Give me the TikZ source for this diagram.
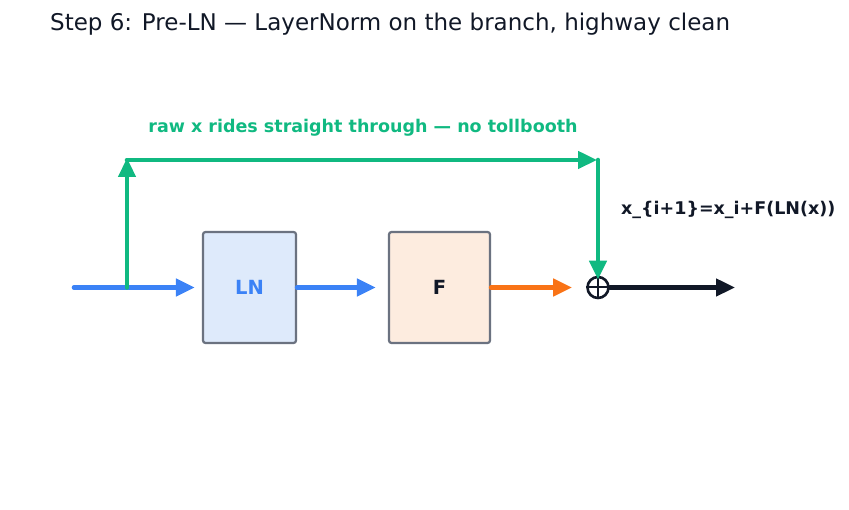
\documentclass[tikz,border=0pt]{standalone}
\usepackage{fontspec}
\setmainfont{DejaVu Sans}
\usetikzlibrary{arrows.meta}
\definecolor{cblue}{HTML}{3B82F6}
\definecolor{cgreen}{HTML}{10B981}
\definecolor{corange}{HTML}{F97316}
\definecolor{cdark}{HTML}{111827}
\definecolor{cgray}{HTML}{6B7280}
\definecolor{lnfill}{HTML}{DEEAFB}
\definecolor{ffill}{HTML}{FDECDF}
\begin{document}
\begin{tikzpicture}[x=1pt,y=-1pt,
  flow/.style={line width=4.6pt,line cap=round,-{Triangle[length=19pt,width=17pt]}},
  blockbox/.style={draw=cgray,line width=2.2pt,rounded corners=2.5pt,minimum width=93pt,minimum height=111pt,inner sep=0pt,font=\fontsize{19.5}{22}\selectfont\bfseries},
  lbl/.style={font=\fontsize{17.5}{20}\selectfont\bfseries,inner sep=0pt}]
\useasboundingbox (0,0) rectangle (849,510);
\node[anchor=west,inner sep=0pt,text=cdark,font=\fontsize{23}{26}\selectfont] (title) at (50,24) {Step 6: Pre-LN — LayerNorm on the branch, highway clean};
\node[lbl,text=cgreen] (hwlbl) at (363,128) {raw x rides straight through — no tollbooth};
\node[blockbox,fill=lnfill,text=cblue] (ln) at (249.5,287.5) {LN};
\node[blockbox,fill=ffill,text=cdark,minimum width=101pt] (f) at (439.5,287.5) {F};
\node[draw=cdark,line width=2.6pt,circle,minimum size=21pt,inner sep=0pt] (sum) at (598,287.5) {};
\draw[cdark,line width=2pt] (sum.north) -- (sum.south) (sum.west) -- (sum.east);
\node[lbl,text=cdark,anchor=west] (eq) at (621,210) {x\_\{i+1\}=x\_i+F(LN(x))};
\coordinate (in) at (74,287.5);
\coordinate (br) at (127,287.5);
\coordinate (tl) at (127,160);
\coordinate (tr) at (598,160);
\coordinate (out) at (735,287.5);
\draw[flow,cblue] (in) -- ([xshift=-7pt]ln.west);
\draw[flow,cgreen] (br) -- ([yshift=2pt]tl);
\draw[flow,cgreen] (tl) -- ([xshift=-1pt]tr);
\draw[flow,cgreen] (tr) -- ([yshift=-4pt]sum.north);
\draw[flow,cblue] (ln.east) -- ([xshift=-12pt]f.west);
\draw[flow,corange] (f.east) -- ([xshift=-14pt]sum.west);
\draw[flow,cdark] (sum.east) -- (out);
\end{tikzpicture}
\end{document}
